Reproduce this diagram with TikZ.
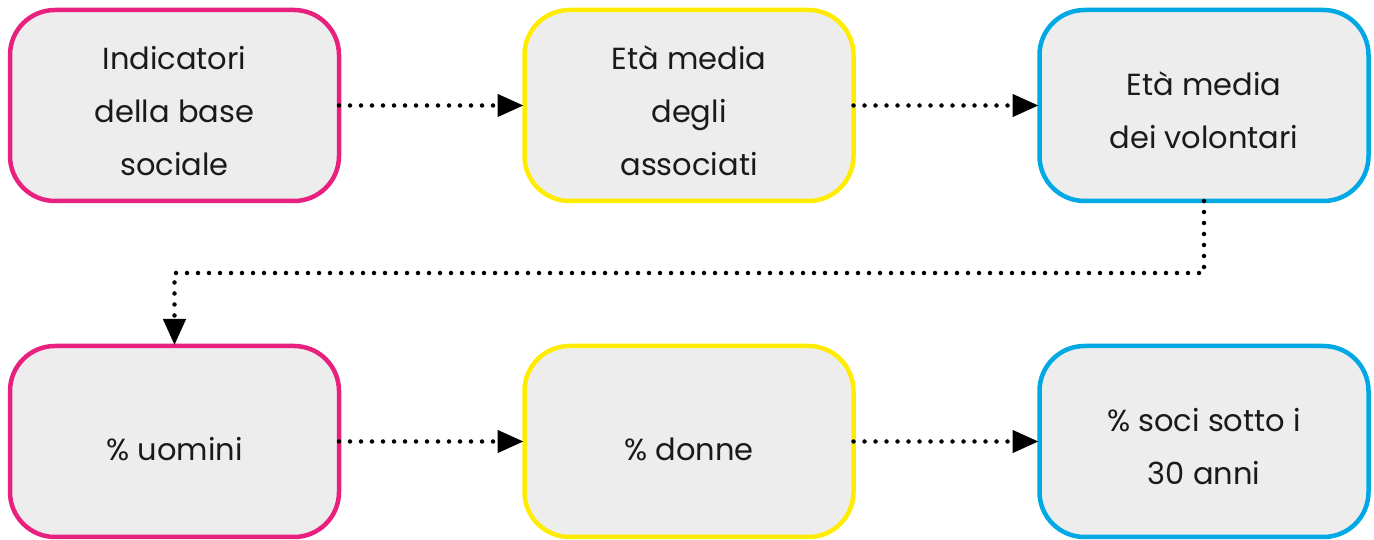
\documentclass[tikz,border=0pt]{standalone}
\usepackage{fontspec}
\setmainfont{Poppins}
\usetikzlibrary{arrows.meta}
\definecolor{cpink}{HTML}{E8217F}
\definecolor{cyel}{HTML}{FFEC00}
\definecolor{cblue}{HTML}{00A8E4}
\definecolor{cfill}{HTML}{EDEDED}
\definecolor{ctext}{HTML}{1A1A1A}
\newcommand{\firstline}{\rule{0pt}{34pt}}
\tikzset{
  x=1pt,y=1pt,
  box/.style={draw, fill=cfill, line width=4.5pt, rounded corners=45pt,
    minimum width=329pt, minimum height=191pt, inner sep=0pt, outer sep=0pt,
    align=center, text=ctext,
    font=\fontsize{30.5}{53}\selectfont,
    execute at begin node={\rule{0pt}{38pt}}},
  conn/.style={line width=4.5pt, line cap=round, dash pattern=on 0pt off 11pt,
    -{Triangle[length=26pt,width=22pt]}, shorten >=1pt}
}
\begin{document}
\begin{tikzpicture}
\useasboundingbox (0,0) rectangle (1374,540);
\node[box, draw=cpink] (n1) at (174.5,434.5) {\firstline Indicatori\\della base\\sociale};
\node[box, draw=cyel] (n2) at (689,434.5) {\firstline Età media\\degli\\associati};
\node[box, draw=cblue] (n3) at (1204,434.5) {\firstline Età media\\dei volontari};
\node[box, draw=cpink] (n4) at (174.5,98.5) {\% uomini};
\node[box, draw=cyel] (n5) at (689,98.5) {\% donne};
\node[box, draw=cblue] (n6) at (1204,98.5) {\firstline\% soci sotto i\\30 anni};
\draw[conn] (n1.east) -- (n2.west);
\draw[conn] (n2.east) -- (n3.west);
\draw[conn] (n4.east) -- (n5.west);
\draw[conn] (n5.east) -- (n6.west);
\coordinate (k) at (174.5,267);
\draw[conn] (n3.south) |- (k) -- (n4.north);
\end{tikzpicture}
\end{document}
